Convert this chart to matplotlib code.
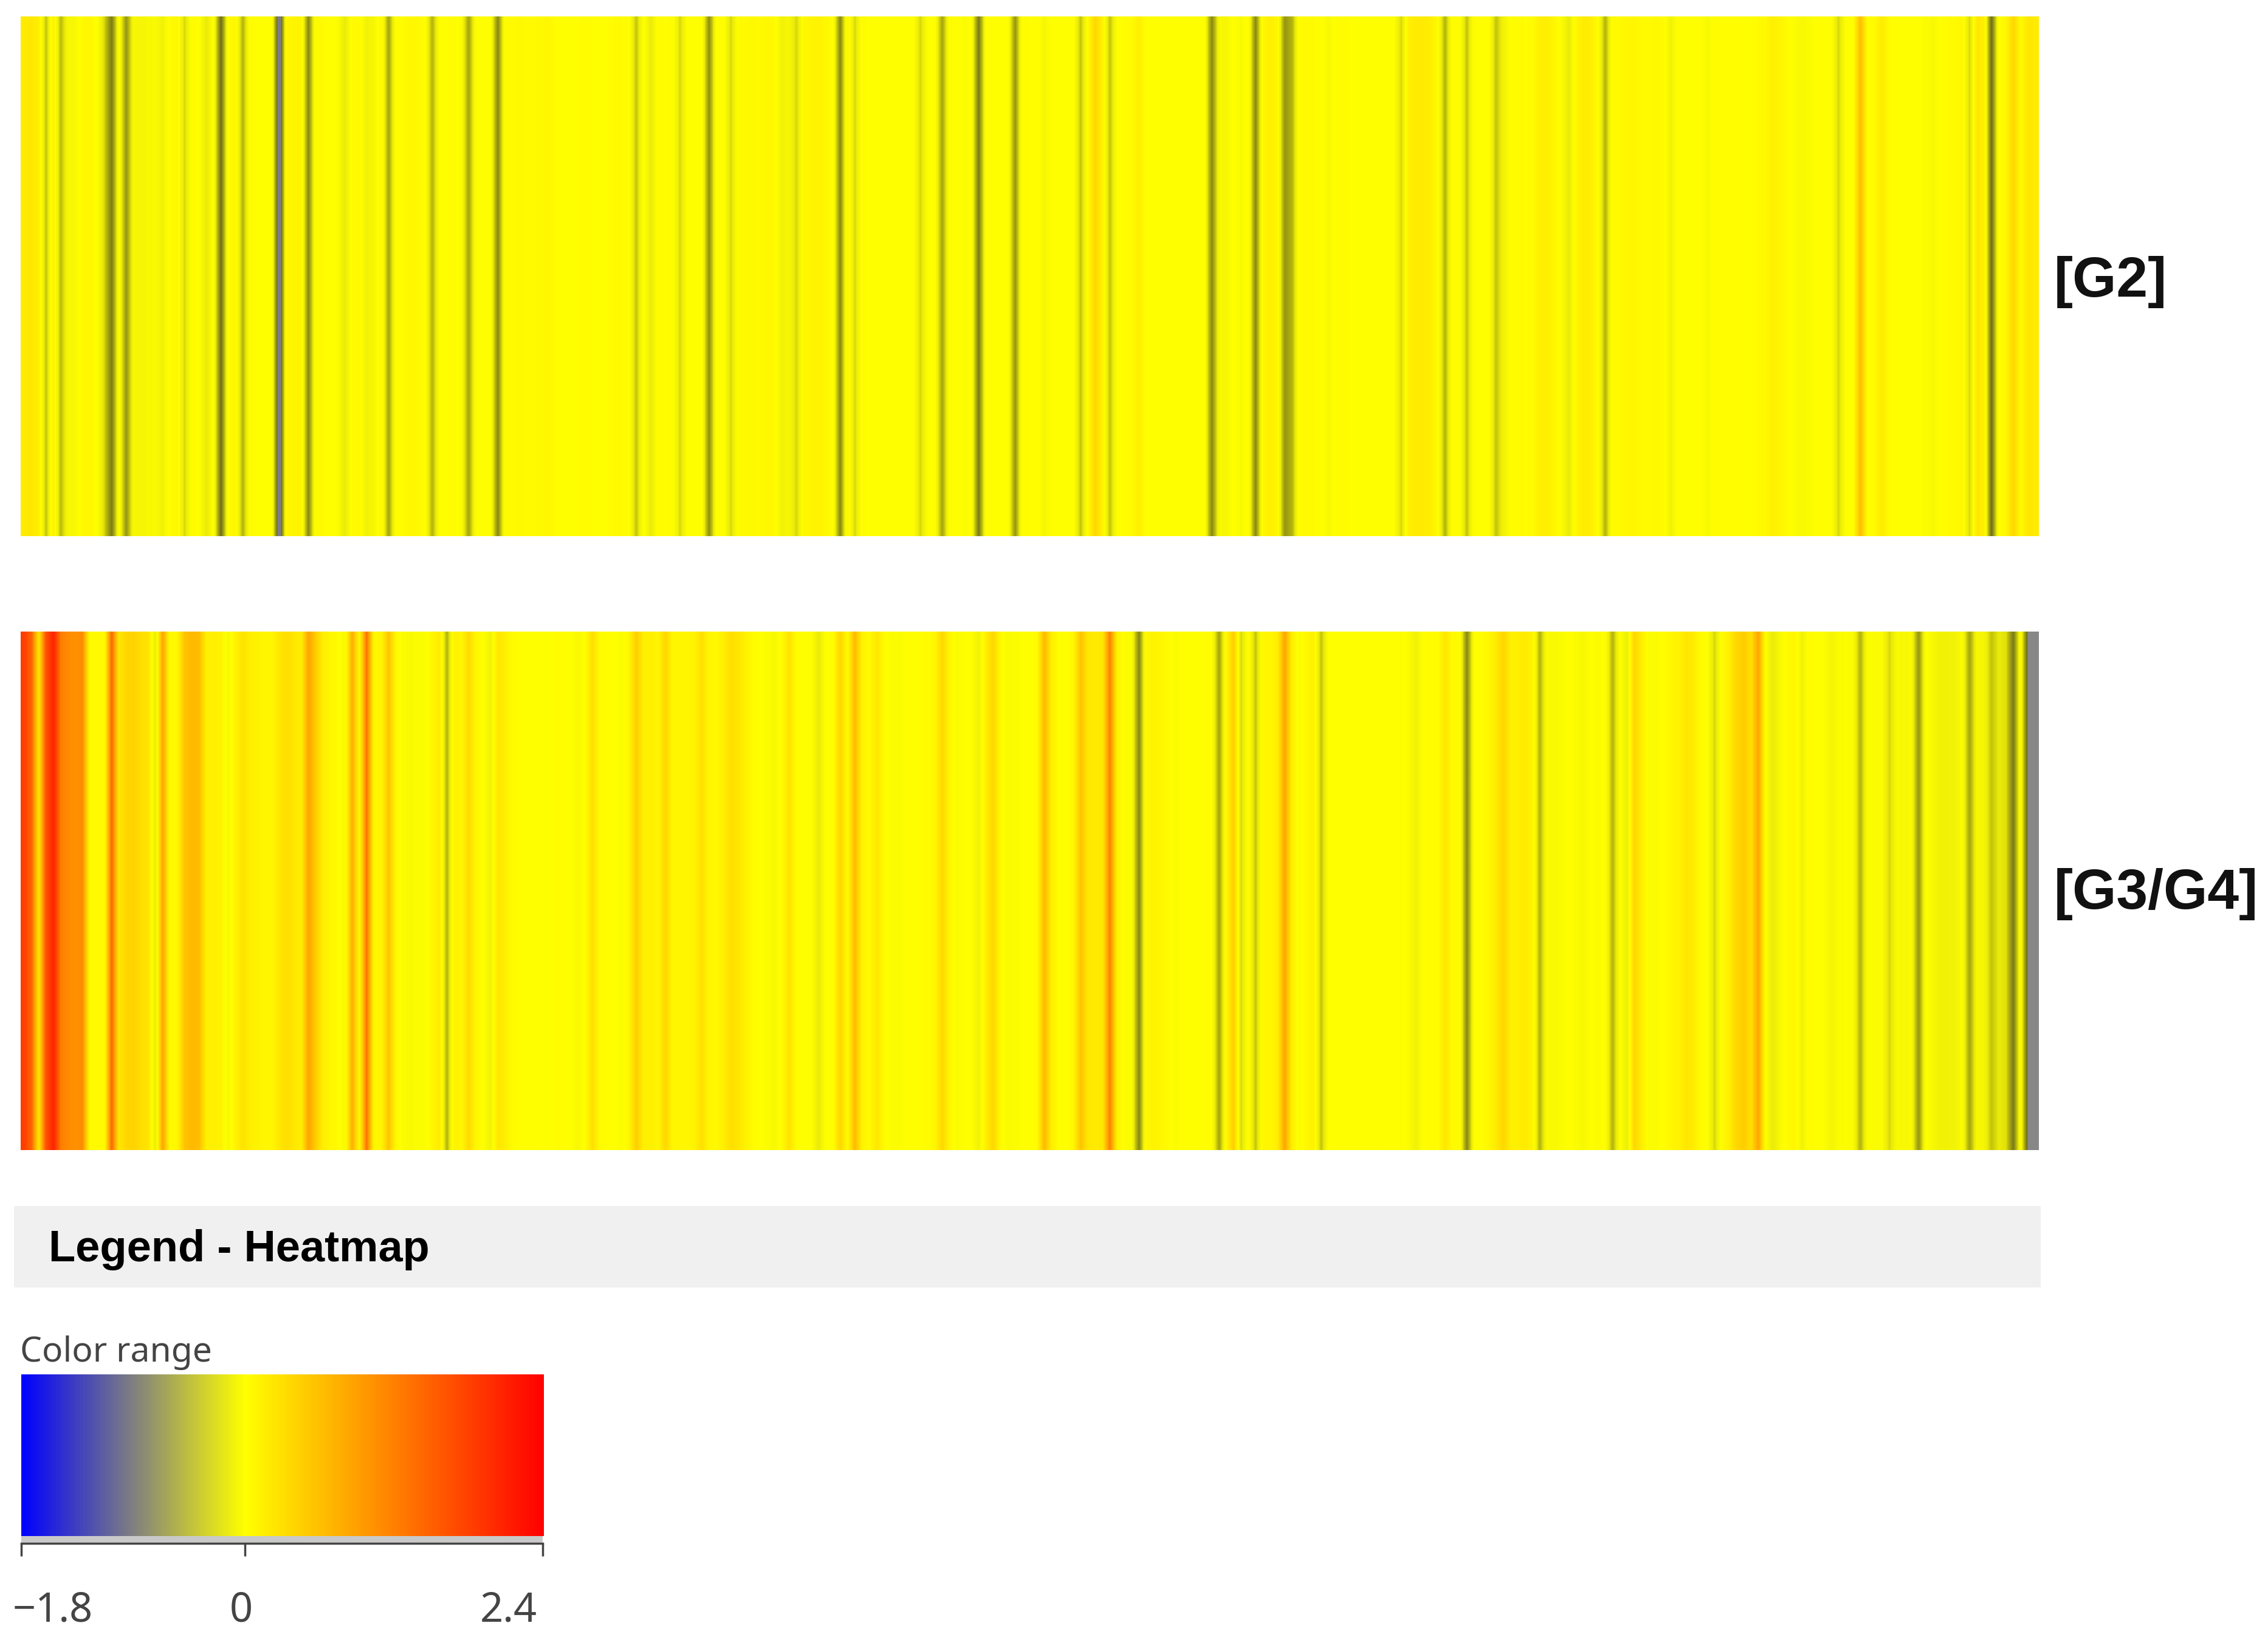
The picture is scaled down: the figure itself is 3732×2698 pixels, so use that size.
"""
Two-row expression heatmap with colour range legend.
"""
import numpy as np
import matplotlib
matplotlib.use("Agg")
from matplotlib import pyplot as plt
from matplotlib.colors import LinearSegmentedColormap, Normalize
from matplotlib.cm import ScalarMappable
from matplotlib.transforms import ScaledTranslation

# one value per sample column
g2_values = [
    0.25, 0.3, 0.2, -0.5, 0.2, -0.55, -0.12, -0.1, 0.08, 0.1,
    0.0, -0.4, -1.0, 0.0, -0.8, -0.1, -0.15, -0.1, -0.08, -0.2,
    0.05, 0.1, -0.4, 0.05, 0.0, -0.3, 0.0, -1.1, 0.05, 0.1,
    -0.6, 0.05, 0.0, 0.0, 0.02, -1.5, 0.1, 0.12, 0.15, -0.9,
    0.05, 0.05, 0.0, -0.02, -0.3, 0.05, 0.05, -0.2, -0.12, 0.1,
    -0.7, 0.02, 0.05, 0.1, 0.08, 0.02, -0.6, 0.0, 0.02, 0.05,
    -0.05, -0.7, 0.0, 0.0, 0.02, -0.9, 0.05, 0.05, 0.08, 0.05,
    0.05, 0.08, 0.1, 0.02, 0.0, 0.0, 0.02, 0.05, 0.02, 0.0,
    0.02, 0.05, 0.05, 0.02, -0.5, 0.05, -0.3, 0.05, 0.02, 0.05,
    -0.4, 0.02, 0.0, 0.02, -0.85, 0.02, 0.02, -0.4, 0.05, 0.05,
    0.08, 0.05, 0.1, 0.05, -0.2, -0.12, -0.4, 0.1, 0.12, 0.15,
    0.1, 0.02, -0.9, 0.15, -0.4, 0.05, 0.0, 0.0, 0.0, 0.0,
    0.0, 0.0, 0.02, -0.4, 0.0, 0.0, -0.7, 0.03, 0.02, -0.05,
    0.0, -1.0, 0.02, 0.02, 0.0, 0.02, -0.8, 0.05, 0.02, 0.02,
    -0.12, 0.0, 0.0, 0.0, 0.02, -0.5, 0.05, 0.5, 0.15, -0.5,
    0.0, 0.02, 0.05, 0.2, 0.0, 0.0, 0.0, 0.0, 0.0, 0.0,
    0.0, 0.0, 0.0, -0.9, -0.1, -0.12, 0.02, -0.08, 0.05, -0.9,
    0.1, 0.2, 0.1, -0.8, -0.6, 0.05, 0.05, 0.05, 0.02, -0.1,
    0.02, 0.05, 0.0, 0.0, 0.0, 0.0, 0.0, 0.0, 0.0, -0.4,
    0.2, 0.25, 0.25, 0.2, 0.05, -0.6, 0.05, 0.02, -0.5, 0.03,
    0.0, 0.02, -0.5, -0.2, 0.02, 0.05, 0.02, 0.05, 0.2, 0.22,
    0.1, -0.05, -0.3, 0.1, 0.25, 0.2, 0.02, -0.6, 0.05, 0.05,
    0.1, 0.1, 0.05, 0.05, 0.08, 0.05, -0.2, 0.02, 0.0, 0.0,
    0.02, -0.1, 0.05, 0.02, 0.02, 0.02, 0.0, 0.02, 0.05, 0.08,
    0.2, 0.12, 0.05, -0.05, -0.1, -0.05, 0.02, 0.02, 0.02, -0.4,
    0.0, 0.0, 0.75, 0.03, 0.05, 0.25, 0.02, 0.02, 0.0, 0.0,
    0.02, -0.05, -0.1, 0.02, 0.05, 0.05, 0.1, -0.4, 0.3, 0.2,
    -1.1, 0.02, 0.1, 0.5, 0.05, 0.3, 0.25,
]
g3g4_values = [
    1.9, 1.5, 0.35, 1.7, 2.2, 1.3, 1.2, 1.15, 1.2, 0.05,
    0.05, 0.05, 1.5, 0.3, 0.5, 0.55, 0.4, 0.35, -0.3, 1.0,
    0.05, 0.1, 0.7, 0.8, 0.75, 0.2, 0.2, 0.15, -0.1, 0.15,
    0.35, 0.2, 0.15, 0.1, 0.1, 0.3, 0.4, 0.3, 0.2, 1.0,
    0.6, 0.2, 0.1, 0.05, -0.1, 0.9, 0.1, 1.4, 0.1, 0.1,
    0.7, 0.1, -0.05, -0.08, -0.05, -0.03, 0.1, 0.25, -0.6, 0.15,
    0.1, 0.45, 0.1, 0.0, -0.2, 0.3, 0.2, 0.05, 0.02, 0.0,
    0.0, 0.02, 0.0, 0.03, 0.02, 0.0, -0.1, 0.03, 0.4, 0.05,
    0.02, 0.0, -0.05, 0.1, 0.6, 0.2, 0.2, 0.1, 0.5, 0.1,
    0.1, 0.1, 0.15, 0.4, 0.1, 0.08, 0.2, 0.4, 0.3, 0.15,
    0.05, 0.0, -0.05, -0.1, 0.05, 0.35, 0.02, 0.0, 0.0, -0.3,
    0.0, 0.0, 0.5, 0.05, 0.8, 0.15, 0.05, 0.3, 0.05, -0.05,
    -0.05, 0.0, 0.0, 0.02, 0.03, 0.1, 0.5, 0.1, -0.05, -0.02,
    0.0, -0.2, 0.2, 0.5, 0.05, -0.08, -0.05, 0.0, 0.0, 0.03,
    0.8, 0.2, 0.0, 0.0, 0.1, 0.7, 0.3, 0.25, 0.3, 1.3,
    0.15, -0.02, -0.05, -0.9, 0.1, 0.15, 0.1, 0.05, -0.05, 0.0,
    0.0, 0.0, 0.02, 0.0, -0.7, 0.1, 0.6, -0.4, 0.05, -0.5,
    0.1, 0.1, 0.2, 1.0, 0.2, -0.05, 0.1, 0.15, -0.5, 0.0,
    0.02, 0.0, 0.0, 0.0, 0.0, 0.0, 0.0, 0.02, 0.0, 0.03,
    -0.05, -0.2, 0.0, 0.05, 0.02, 0.3, 0.05, 0.05, -0.9, 0.0,
    0.02, 0.1, 0.25, 0.5, 0.2, 0.2, 0.25, 0.15, -0.6, -0.05,
    -0.1, -0.05, 0.02, -0.05, -0.1, 0.0, -0.05, 0.02, -0.6, 0.0,
    -0.25, 0.5, 0.2, -0.05, -0.05, 0.02, 0.1, 0.15, 0.3, 0.25,
    0.05, 0.0, -0.4, 0.05, 0.2, 0.5, 0.6, 0.4, 1.0, -0.02,
    -0.3, -0.08, 0.05, 0.1, -0.2, 0.05, 0.0, -0.02, -0.15, -0.05,
    -0.02, -0.05, -0.6, -0.03, -0.05, -0.05, -0.4, -0.08, -0.1, -0.08,
    -0.8, 0.02, -0.12, -0.2, -0.2, -0.18, -0.05, -0.7, -0.1, -0.15,
    -0.5, -0.3, -0.35, -1.0, 0.0, -1.25, -1.25,
]
group_labels = ["[G2]", "[G3/G4]"]
range_ticks = [-1.8, 0, 2.4]
range_tick_labels = ["\u22121.8", "0", "2.4"]

# the thin stripes of the original look olive, not grey, and softer on the warm side
stripe_stops = [-1.8, -1.5, -1.25, -1.1, -0.8, -0.5, -0.3, 0, 0.25, 0.5, 1.0, 1.5, 2.2, 2.4]
stripe_colors = [
    "#0000ff", "#6e6eb4", "#888888", "#6e6e1e", "#969614", "#c3c30a", "#ebeb0a", "#ffff00",
    "#ffeb00", "#ffd700", "#ffa500", "#ff6400", "#ff2300", "#ff0000",
]

W, H = 3732, 2698
DPI = 100
SANS = ["Liberation Sans", "DejaVu Sans"]
SOFT = ["Noto Sans", "DejaVu Sans"]


def box(x0, y0, x1, y1):
    """Pixel box, y down, to figure fractions for add_axes."""
    return [x0 / W, 1 - y1 / H, (x1 - x0) / W, (y1 - y0) / H]


vmin, vmax = range_ticks[0], range_ticks[-1]
norm = Normalize(vmin, vmax)
cmap = LinearSegmentedColormap.from_list(
    "range", [(0, "#0000ff"), (norm(0), "#ffff00"), (1, "#ff0000")], N=512
)
stripe_cmap = LinearSegmentedColormap.from_list(
    "stripes", [(float(norm(v)), c) for v, c in zip(stripe_stops, stripe_colors)], N=1024
)

fig = plt.figure(figsize=(W / DPI, H / DPI), dpi=DPI, facecolor="white")

# heatmap rows
rows = [(g2_values, 27, 882, 464), (g3g4_values, 1039, 1892, 1471)]
for (values, top, bottom, label_y), label in zip(rows, group_labels):
    ax = fig.add_axes(box(34, top, 3355, bottom))
    ax.imshow(
        np.array(values)[np.newaxis, :],
        cmap=stripe_cmap,
        norm=norm,
        aspect="auto",
        interpolation="bilinear",
    )
    ax.axis("off")
    fig.text(
        3380 / W, 1 - label_y / H, label, fontsize=67, fontweight="bold",
        family=SANS, color="#111111", va="center", ha="left",
    )

# legend header
band = fig.add_axes(box(23, 1984, 3358, 2118))
band.set_facecolor("#f0f0f0")
band.set_xticks([])
band.set_yticks([])
for spine in band.spines.values():
    spine.set_visible(False)
band.text(
    (80 - 23) / (3358 - 23), 0.46, "Legend - Heatmap", transform=band.transAxes,
    fontsize=52, fontweight="bold", family=SANS, color="black",
    va="center", ha="left",
)

# colour range
fig.text(
    33 / W, 1 - 2225 / H, "Color range", fontsize=41, family=SOFT,
    color="#444444", va="center", ha="left",
)
cax = fig.add_axes(box(35, 2261, 895, 2527))
bar = fig.colorbar(ScalarMappable(norm=norm, cmap=cmap), cax=cax, orientation="horizontal")
bar.outline.set_visible(False)
bar.set_ticks([])

scale = fig.add_axes(box(35, 2527, 893, 2539))
scale.set_xlim(vmin, vmax)
scale.set_yticks([])
scale.set_facecolor("#c9c9c9")
for name, spine in scale.spines.items():
    spine.set_visible(name == "bottom")
scale.spines["bottom"].set_linewidth(2.5)
scale.spines["bottom"].set_color("#444444")
scale.set_xticks(range_ticks)
scale.set_xticklabels(range_tick_labels, fontsize=48, family=SOFT, color="#444444")
scale.tick_params(axis="x", length=15, width=2.5, color="#444444", pad=40)
for lbl, dx in zip(scale.get_xticklabels(), [52, -6, -56]):
    lbl.set_transform(lbl.get_transform() + ScaledTranslation(dx / DPI, 0, fig.dpi_scale_trans))

fig.savefig("out.png", dpi=DPI)
